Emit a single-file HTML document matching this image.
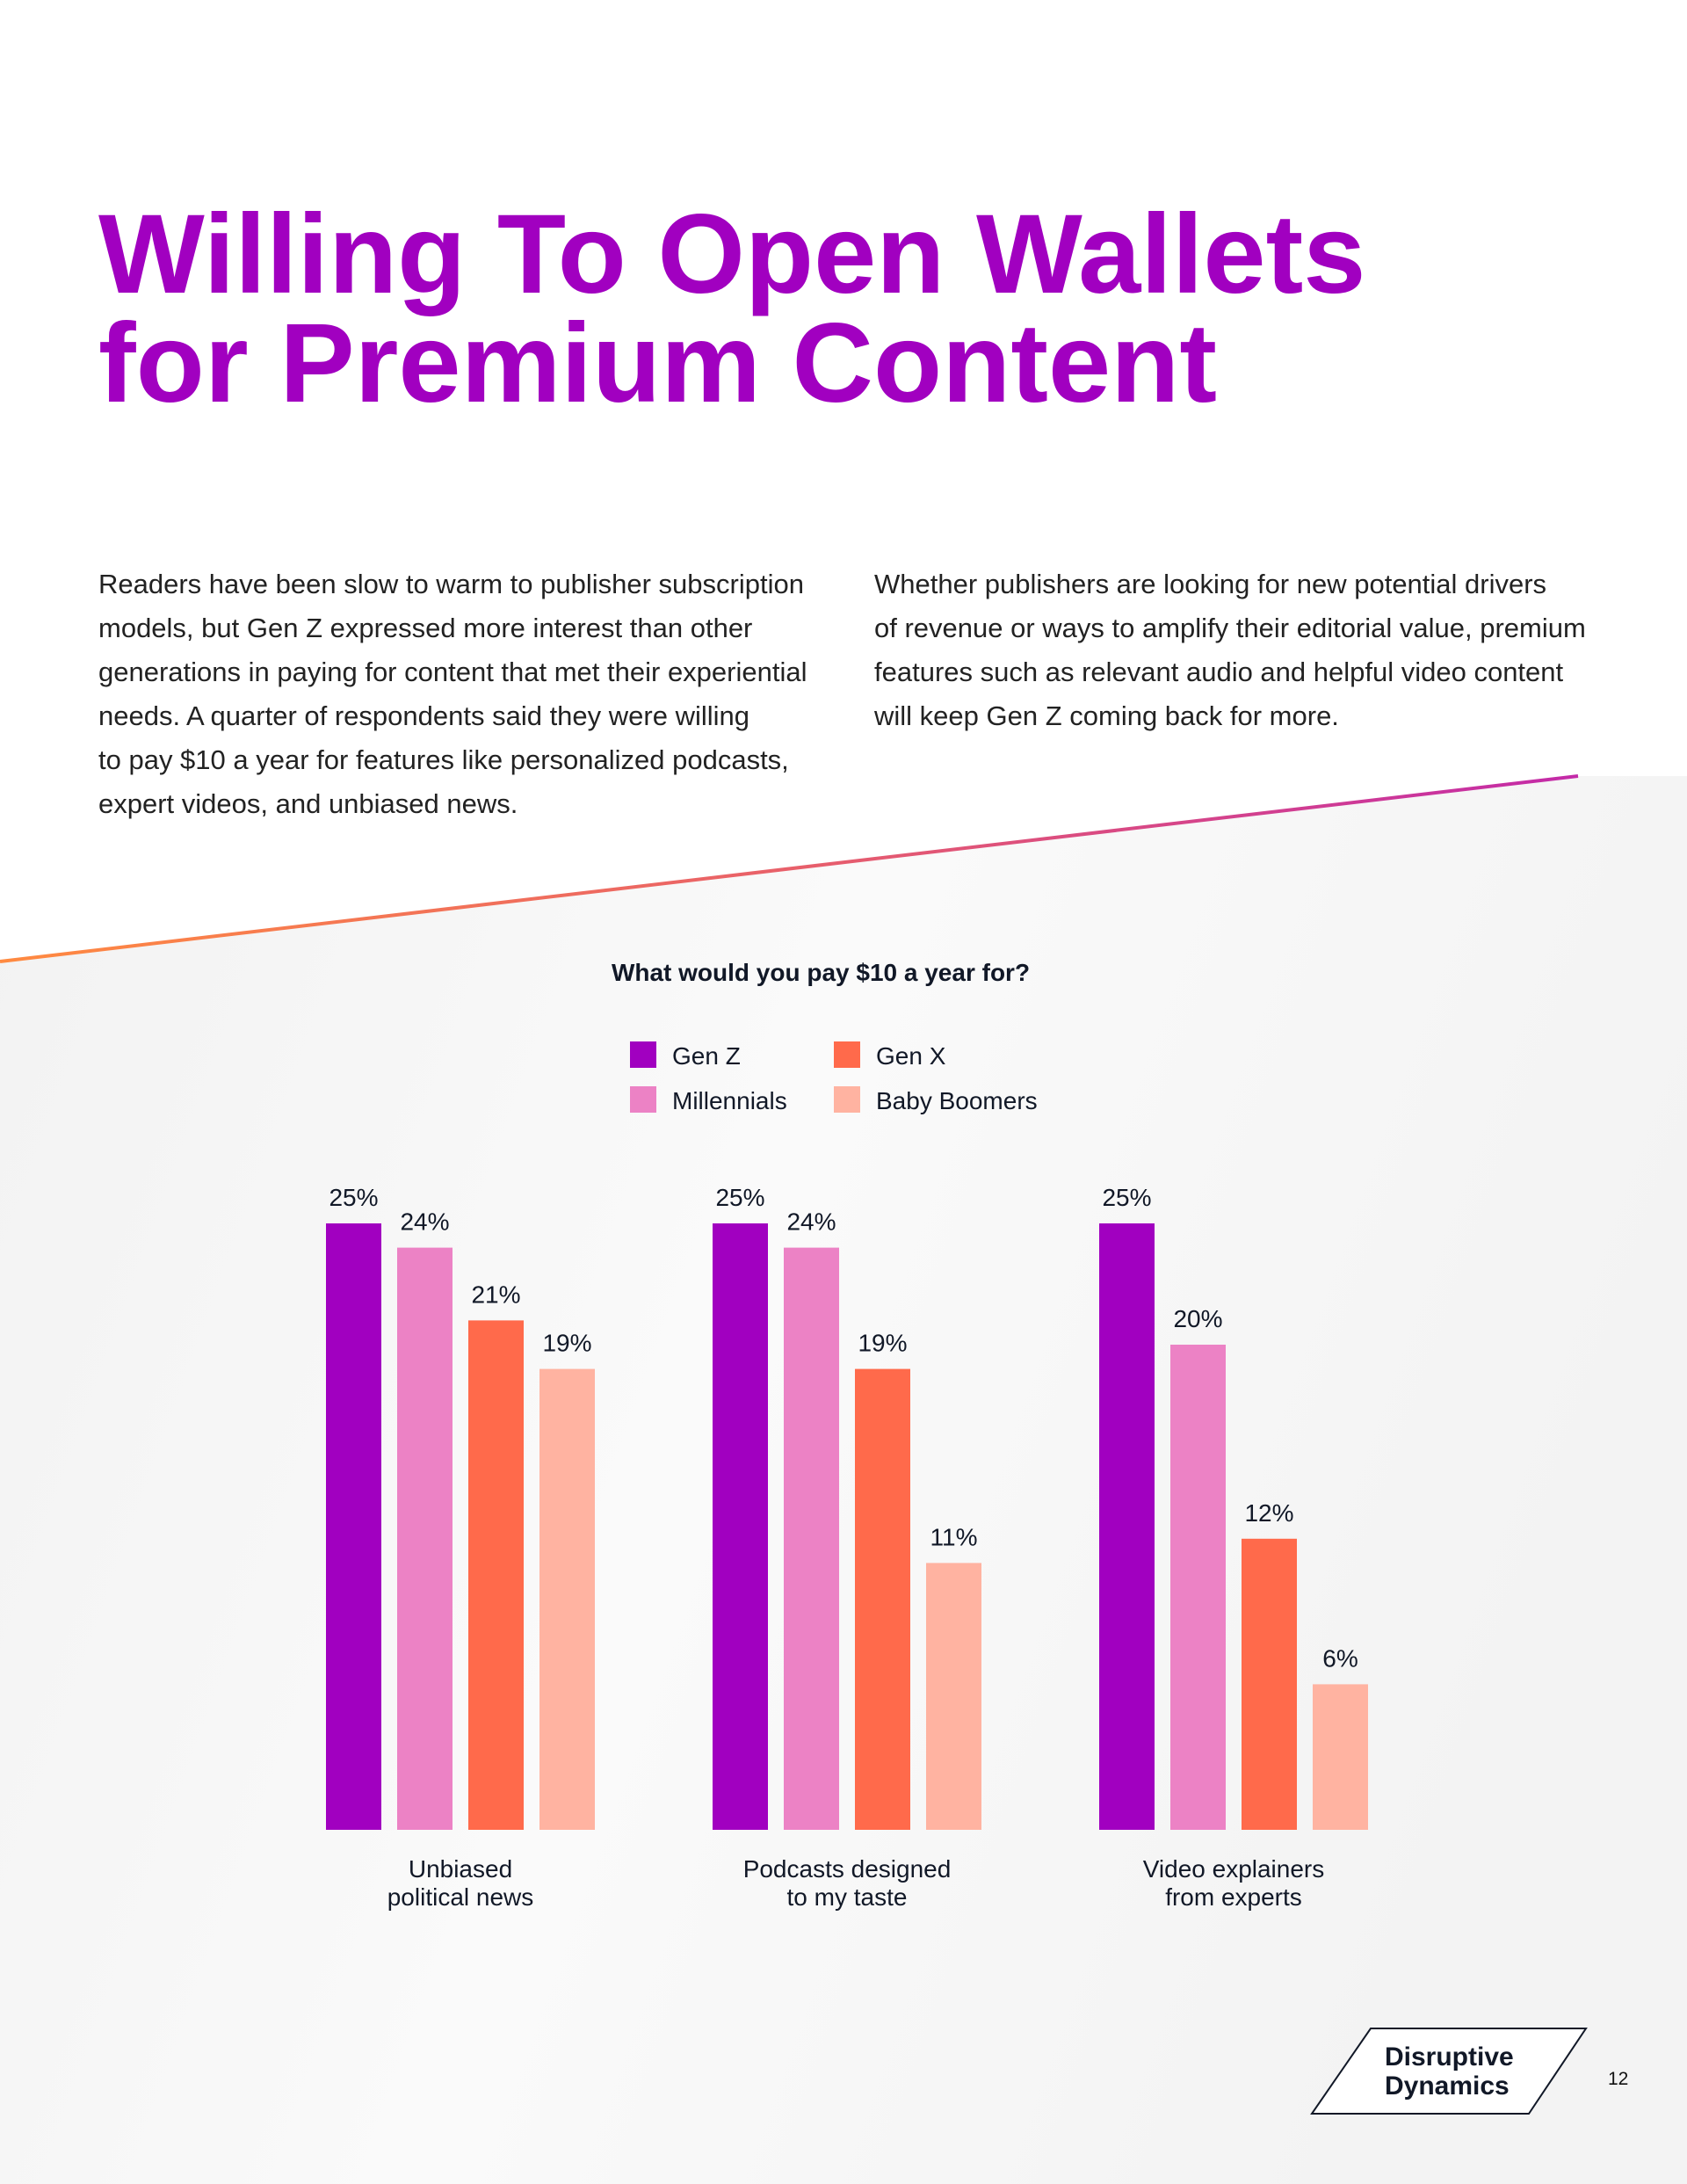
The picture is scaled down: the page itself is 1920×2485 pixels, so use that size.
<!DOCTYPE html>
<html><head><meta charset="utf-8"><style>
html,body{margin:0;padding:0}
body{width:1920px;height:2485px;position:relative;overflow:hidden;background:#fff;font-family:"Liberation Sans",sans-serif;color:#222}
.t{position:absolute;white-space:nowrap}
h1{position:absolute;left:112px;top:228px;margin:0;font-size:128px;line-height:124px;font-weight:700;color:#a100c0;letter-spacing:0px}
.p{position:absolute;top:640px;font-size:31px;line-height:50px;color:#222;white-space:nowrap}
</style></head><body>
<svg style="position:absolute;left:0;top:0" width="1920" height="2485">
<defs>
<linearGradient id="bg" x1="0" y1="0" x2="1" y2="0.3"><stop offset="0" stop-color="#f2f2f2"/><stop offset="0.5" stop-color="#fafafa"/><stop offset="1" stop-color="#f3f3f3"/></linearGradient>
<linearGradient id="ln" x1="0" y1="0" x2="1" y2="0"><stop offset="0" stop-color="#ff8a40"/><stop offset="0.5" stop-color="#e8606a"/><stop offset="1" stop-color="#c32aa8"/></linearGradient>
</defs>
<polygon points="0,1094 1796,883 1920,883 1920,2485 0,2485" fill="url(#bg)"/>
<line x1="0" y1="1094" x2="1796" y2="883" stroke="url(#ln)" stroke-width="4"/>
</svg>
<h1>Willing To Open Wallets<br>for Premium Content</h1>
<div class="p" style="left:112px">Readers have been slow to warm to publisher subscription<br>models, but Gen Z expressed more interest than other<br>generations in paying for content that met their experiential<br>needs. A quarter of respondents said they were willing<br>to pay $10 a year for features like personalized podcasts,<br>expert videos, and unbiased news.</div>
<div class="p" style="left:995px">Whether publishers are looking for new potential drivers<br>of revenue or ways to amplify their editorial value, premium<br>features such as relevant audio and helpful video content<br>will keep Gen Z coming back for more.</div>
<div class="t" style="left:0;width:1868px;text-align:center;top:1091px;font-size:28px;font-weight:700;color:#111827">What would you pay $10 a year for?</div>
<svg id="chart" style="position:absolute;left:0;top:0" width="1920" height="2485" font-family="Liberation Sans, sans-serif"></svg>
<svg style="position:absolute;left:0;top:0" width="1920" height="2485">
<polygon points="1560,2308 1805,2308 1740,2405 1493,2405" fill="#fff" stroke="#111827" stroke-width="2"/>
<text x="1576" y="2350" font-family="Liberation Sans, sans-serif" font-size="30" font-weight="700" fill="#111827">Disruptive</text>
<text x="1576" y="2383" font-family="Liberation Sans, sans-serif" font-size="30" font-weight="700" fill="#111827">Dynamics</text>
<text x="1830" y="2372" font-family="Liberation Sans, sans-serif" font-size="21" fill="#111">12</text>
</svg>
<script>
const categories = [["Unbiased","political news"],["Podcasts designed","to my taste"],["Video explainers","from experts"]];
const seriesNames = ["Gen Z","Millennials","Gen X","Baby Boomers"];
const genZ = [25,25,25];
const millennials = [24,24,20];
const genX = [21,19,12];
const boomers = [19,11,6];
const colors = ["#a100c0","#ec82c5","#ff6a4b","#ffb3a1"];
const series = [genZ, millennials, genX, boomers];
const NS = "http://www.w3.org/2000/svg";
const svg = document.getElementById('chart');
const baseY = 2082, pxPer = 27.6;
const y = v => baseY - v * pxPer;
const groupX = i => 371 + i * 440;
const barX = (i, s) => groupX(i) + s * 81;
const bw = 63;
function mk(tag, attrs){const e=document.createElementNS(NS,tag);for(const k in attrs)e.setAttribute(k,attrs[k]);svg.appendChild(e);return e;}
categories.forEach((c, i) => {
  series.forEach((arr, s) => {
    const v = arr[i];
    const r = mk('rect', {x: barX(i,s), y: y(v), width: bw, height: baseY - y(v), fill: colors[s]});
    
    
    const t = mk('text', {x: barX(i,s) + bw/2, y: y(v) - 20, 'text-anchor': 'middle', 'font-size': 28, fill: '#111827'});
    t.textContent = v + '%';
    
    
  });
  const cx = groupX(i) + (3*81 + bw)/2;
  c.forEach((line, j) => {
    const t = mk('text', {x: cx, y: 2136 + j*32, 'text-anchor': 'middle', 'font-size': 28, fill: '#111827'});
    t.textContent = line;
    
    
  });
});
const legPos = [[717,1185],[717,1236],[949,1185],[949,1236]];
seriesNames.forEach((n, s) => {
  const p = legPos[s];
  const r = mk('rect', {x: p[0], y: p[1], width: 30, height: 30, fill: colors[s]});
  
  
  const t = mk('text', {x: p[0] + 48, y: p[1] + 26, 'font-size': 28, fill: '#111827'});
  t.textContent = n;
  
  
});
</script>
</body></html>
